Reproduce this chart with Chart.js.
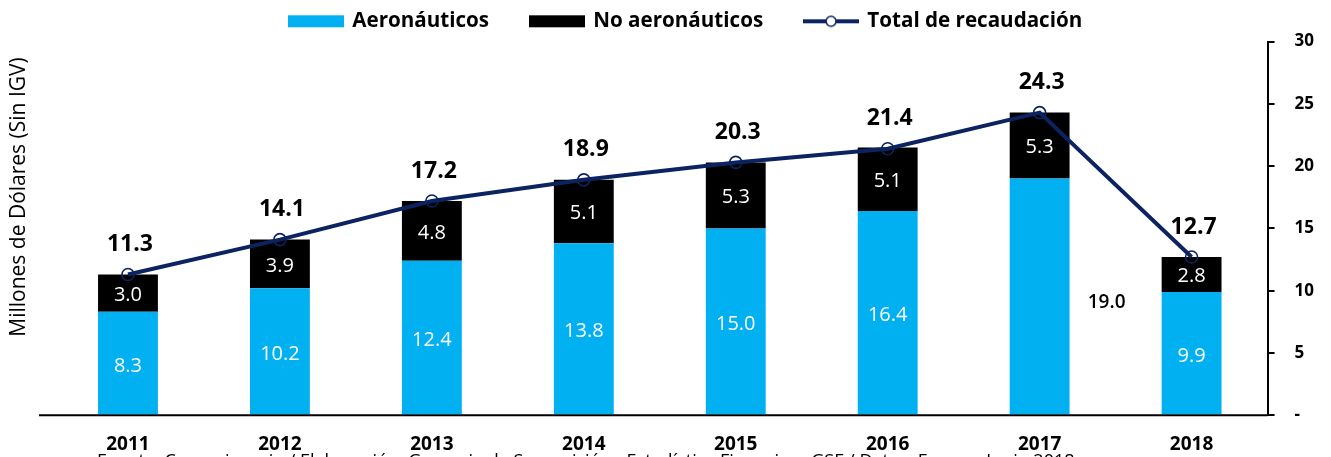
<!DOCTYPE html>
<html>
<head>
<meta charset="utf-8">
<script src="https://cdn.jsdelivr.net/npm/chart.js@4"></script>
<style>
html,body{margin:0;padding:0;background:#fff;overflow:hidden;}
#wrap{width:1331px;height:480px;position:relative;}
</style>
</head>
<body>
<div id="wrap"><canvas id="c" width="1331" height="480"></canvas></div>
<script>
const categories = ['2011','2012','2013','2014','2015','2016','2017','2018'];
const aeronauticos = [8.3, 10.2, 12.4, 13.8, 15.0, 16.4, 19.0, 9.9];
const noAeronauticos = [3.0, 3.9, 4.8, 5.1, 5.3, 5.1, 5.3, 2.8];
const totalRecaudacion = [11.3, 14.1, 17.2, 18.9, 20.3, 21.4, 24.3, 12.7];
const yTicks = [0, 5, 10, 15, 20, 25, 30];
const yTitle = 'Millones de Dólares (Sin IGV)';
const footnote = 'Fuente: Concesionario / Elaboración: Gerencia de Supervisión - Estadística Financiera GSF / Datos: Enero a Junio 2018';

const BLUE = '#00B0F0';
const NAVY = '#0B2461';
const FONT = '"Open Sans", sans-serif';

function makeSwatch(kind) {
  const c = document.createElement('canvas');
  c.width = 56; c.height = 14;
  const g = c.getContext('2d');
  if (kind === 'line') {
    g.strokeStyle = NAVY; g.lineWidth = 4;
    g.beginPath(); g.moveTo(0, 7); g.lineTo(56, 7); g.stroke();
    g.lineWidth = 1.6; g.fillStyle = '#fff';
    g.beginPath(); g.arc(28, 7, 5, 0, Math.PI * 2); g.fill(); g.stroke();
  } else {
    g.fillStyle = kind;
    g.fillRect(0, 1, 56, 12);
  }
  return c;
}

const labelsPlugin = {
  id: 'labelsPlugin',
  afterDatasetsDraw(chart) {
    const ctx = chart.ctx;
    ctx.save();
    ctx.textAlign = 'center';
    ctx.textBaseline = 'middle';
    const m0 = chart.getDatasetMeta(0);
    m0.data.forEach((el, i) => {
      const v = aeronauticos[i];
      const mid = (el.y + el.base) / 2 + 3;
      if (i === 6) {
        ctx.fillStyle = '#000';
        ctx.font = '600 19px ' + FONT;
        ctx.fillText(v.toFixed(1), el.x + 67, mid + 3);
      } else {
        ctx.fillStyle = '#fff';
        ctx.font = '500 20px ' + FONT;
        ctx.fillText(v.toFixed(1), el.x, mid);
      }
    });
    const m1 = chart.getDatasetMeta(1);
    m1.data.forEach((el, i) => {
      ctx.fillStyle = '#fff';
      ctx.font = '500 20px ' + FONT;
      ctx.fillText(noAeronauticos[i].toFixed(1), el.x, (el.y + el.base) / 2 + 2);
    });
    const m2 = chart.getDatasetMeta(2);
    m2.data.forEach((el, i) => {
      ctx.fillStyle = '#000';
      ctx.font = 'bold 23px ' + FONT;
      ctx.fillText(totalRecaudacion[i].toFixed(1), el.x + 2, el.y - 30);
    });
    ctx.restore();
  }
};

const decoPlugin = {
  id: 'decoPlugin',
  afterDraw(chart) {
    const ctx = chart.ctx;
    const a = chart.chartArea;
    ctx.save();
    ctx.strokeStyle = '#000';
    ctx.lineWidth = 2;
    ctx.beginPath();
    ctx.moveTo(a.left - 13, a.bottom);
    ctx.lineTo(a.right, a.bottom);
    ctx.stroke();
    ctx.fillStyle = '#000';
    ctx.font = '21px ' + FONT;
    ctx.textAlign = 'center';
    ctx.textBaseline = 'middle';
    ctx.translate(19, 197);
    ctx.rotate(-Math.PI / 2);
    ctx.fillText(yTitle, 0, 0);
    ctx.restore();
    ctx.save();
    ctx.fillStyle = '#000';
    ctx.font = '18px ' + FONT;
    ctx.textAlign = 'left';
    ctx.textBaseline = 'alphabetic';
    ctx.fillText(footnote, 97, 467);
    ctx.restore();
  }
};

const swatches = [makeSwatch(BLUE), makeSwatch('#000'), makeSwatch('line')];
const SPACER = '\u2003\u2002';
const TAIL = '\u2002\u2009';

new Chart(document.getElementById('c'), {
  data: {
    labels: categories,
    datasets: [
      { type: 'bar', label: 'Aeronáuticos', data: aeronauticos, backgroundColor: BLUE,
        categoryPercentage: 0.8, barPercentage: 0.4925, order: 2 },
      { type: 'bar', label: 'No aeronáuticos', data: noAeronauticos, backgroundColor: '#000',
        categoryPercentage: 0.8, barPercentage: 0.4925, order: 2 },
      { type: 'line', label: 'Total de recaudación', data: totalRecaudacion, stack: 'total',
        borderColor: NAVY, borderWidth: 4, backgroundColor: 'rgba(0,0,0,0)',
        pointRadius: 6, pointBorderWidth: 1.6, pointBorderColor: NAVY,
        pointBackgroundColor: 'rgba(0,0,0,0)', tension: 0, order: 1 }
    ]
  },
  options: {
    responsive: false,
    animation: false,
    layout: { padding: { left: 52, right: -3, top: 0, bottom: 14 } },
    plugins: {
      legend: {
        position: 'top',
        labels: {
          usePointStyle: true,
          pointStyleWidth: 52,
          boxHeight: 14,
          padding: 11,
          color: '#000',
          font: { family: FONT, size: 20.6, weight: 'bold' },
          generateLabels(chart) {
            const n = chart.data.datasets.length;
            return chart.data.datasets.map((ds, i) => ({
              text: ds.label + (i < n - 1 ? SPACER : TAIL), pointStyle: swatches[i], datasetIndex: i,
              fillStyle: 'rgba(0,0,0,0)', strokeStyle: 'rgba(0,0,0,0)', lineWidth: 0,
              fontColor: '#000', hidden: false
            }));
          }
        }
      },
      tooltip: { enabled: false }
    },
    scales: {
      x: {
        stacked: true,
        offset: true,
        grid: { display: false },
        border: { display: false },
        ticks: { color: '#000', padding: 10, font: { family: FONT, size: 19, weight: 'bold' } }
      },
      y: {
        position: 'right',
        stacked: true,
        min: 0, max: 30,
        afterBuildTicks(scale) { scale.ticks = yTicks.map(v => ({ value: v })); },
        grid: { display: true, drawOnChartArea: false, drawTicks: true, tickLength: 7, color: '#000', lineWidth: 2 },
        border: { display: true, color: '#000', width: 2 },
        ticks: {
          color: '#000', padding: 20,
          font: { family: FONT, size: 17, weight: 'bold' },
          callback: (v) => v === 0 ? '-' : String(v)
        }
      }
    }
  },
  plugins: [labelsPlugin, decoPlugin]
});
</script>
</body>
</html>
